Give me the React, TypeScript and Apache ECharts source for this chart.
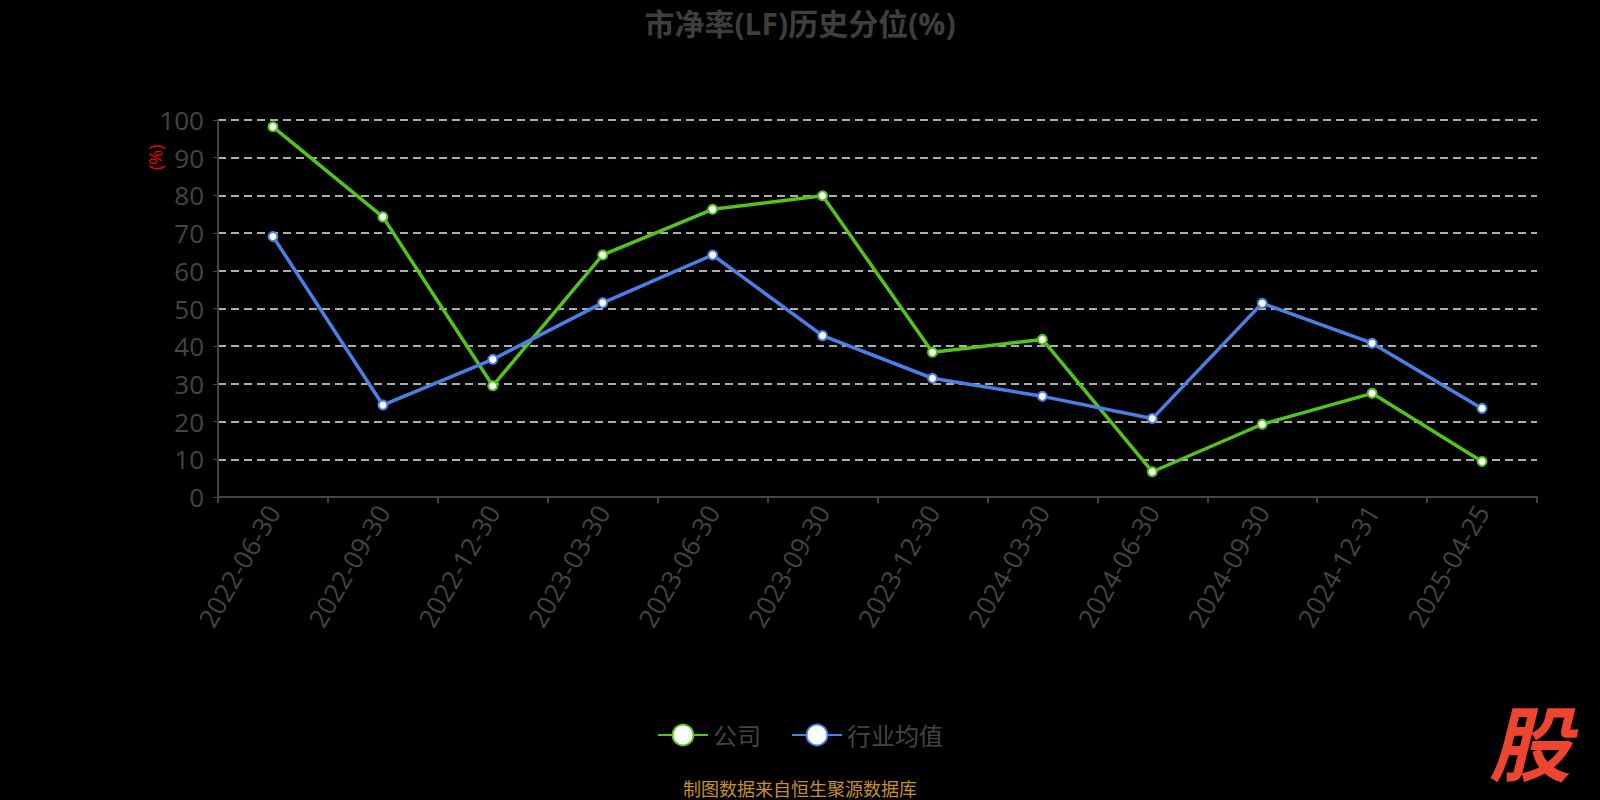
import React, { useEffect, useRef } from "react";
import * as echarts from "echarts";

const categories = [
  "2022-06-30", "2022-09-30", "2022-12-30", "2023-03-30", "2023-06-30", "2023-09-30",
  "2023-12-30", "2024-03-30", "2024-06-30", "2024-09-30", "2024-12-31", "2025-04-25",
];
const companyValues = [98.2, 74.3, 29.5, 64.2, 76.3, 79.9, 38.4, 41.8, 6.7, 19.3, 27.5, 9.4];
const industryValues = [69.1, 24.4, 36.5, 51.5, 64.2, 42.8, 31.5, 26.7, 20.8, 51.4, 40.8, 23.5];
const yTicks = { min: 0, max: 100, interval: 10 };

export default function App() {
  const ref = useRef<HTMLDivElement>(null);
  useEffect(() => {
    if (!ref.current) return;
    const chart = echarts.init(ref.current, null, { renderer: "svg" });
    const font = "'Open Sans', 'Noto Sans CJK SC', sans-serif";
    chart.setOption({
      animation: false,
      backgroundColor: "#000",
      textStyle: { fontFamily: font },
      title: {
        text: "市净率(LF)历史分位(%)",
        left: "center",
        top: 3,
        textStyle: { color: "#3e3e3e", fontSize: 30, fontWeight: "bold", fontFamily: font },
      },
      grid: { left: 218, right: 63, top: 120, bottom: 303 },
      legend: {
        top: 718,
        left: "center",
        itemWidth: 50,
        itemHeight: 26,
        itemGap: 30,
        textStyle: { color: "#444", fontSize: 24, fontFamily: font },
        data: ["公司", "行业均值"],
      },
      xAxis: {
        type: "category",
        data: categories,
        boundaryGap: true,
        axisLine: { lineStyle: { color: "#444", width: 2 } },
        axisTick: { show: true, length: 6, lineStyle: { color: "#444", width: 2 } },
        axisLabel: { rotate: 60, color: "#444", fontSize: 26, margin: 10, interval: 0 },
        splitLine: { show: false },
      },
      yAxis: {
        type: "value",
        min: yTicks.min,
        max: yTicks.max,
        interval: yTicks.interval,
        axisLine: { show: true, lineStyle: { color: "#444", width: 2 } },
        axisTick: { show: true, length: 5, lineStyle: { color: "#444" } },
        axisLabel: { color: "#444", fontSize: 26, margin: 14 },
        splitLine: { show: true, lineStyle: { color: "#e6e6e6", width: 1.5, type: [8, 5] } },
      },
      graphic: [
        {
          type: "text",
          x: 146,
          y: 170,
          rotation: Math.PI / 2,
          style: { text: "(%)", fill: "#e00", fontSize: 18, fontFamily: font },
        },
        {
          type: "text",
          left: "center",
          top: 780,
          style: { text: "制图数据来自恒生聚源数据库", fill: "#c8902a", fontSize: 18, fontFamily: font },
        },
        {
          type: "text",
          x: 1489,
          y: 739,
          style: {
            text: "股",
            fill: "#ee4430",
            fontSize: 82,
            fontWeight: "bold",
            fontStyle: "italic",
            verticalAlign: "middle",
            fontFamily: "'Noto Sans CJK SC', sans-serif",
          },
        },
      ],
      series: [
        {
          name: "公司",
          type: "line",
          data: companyValues,
          symbol: "circle",
          symbolSize: 9,
          color: "#52c41a",
          lineStyle: { color: "#52c41a", width: 3.5 },
          itemStyle: { color: "#fff", borderColor: "#52c41a", borderWidth: 2 },
        },
        {
          name: "行业均值",
          type: "line",
          data: industryValues,
          symbol: "circle",
          symbolSize: 9,
          color: "#4a80e6",
          lineStyle: { color: "#4a80e6", width: 3.5 },
          itemStyle: { color: "#fff", borderColor: "#4a80e6", borderWidth: 2 },
        },
      ],
    });
    return () => chart.dispose();
  }, []);
  return (
    <div
      ref={ref}
      style={{ position: "fixed", left: 0, top: 0, width: 1600, height: 800 }}
    />
  );
}
